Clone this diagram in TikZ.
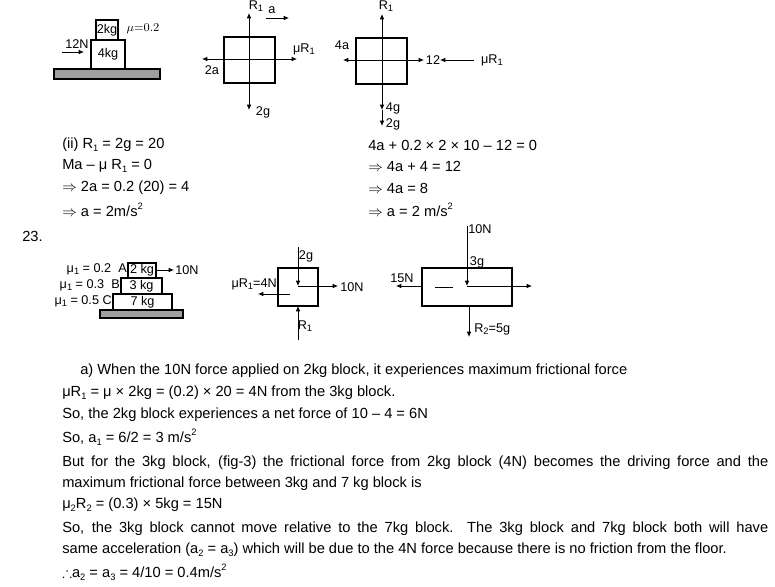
\documentclass[tikz,border=0pt]{standalone}
\usepackage{amssymb}
\usepackage{fontspec}
\setmainfont{Liberation Sans}
\usetikzlibrary{arrows.meta}
\newcommand{\lo}[1]{\raisebox{-0.35ex}{\scriptsize #1}}
\newcommand{\hi}[1]{\raisebox{0.9ex}{\scriptsize #1}}
\tikzset{
  txt/.style={anchor=west,inner sep=0pt,font=\fontsize{11}{12}\selectfont},
  lbl/.style={inner sep=0pt,font=\fontsize{9.5}{10}\selectfont},
  frc/.style={-{Latex[length=4pt,width=3.5pt]},line width=0.6pt},
  frcb/.style={{Latex[length=4pt,width=3.5pt]}-{Latex[length=4pt,width=3.5pt]},line width=0.6pt},
  blk/.style={draw,line width=0.8pt},
}
\begin{document}
\begin{tikzpicture}[x=0.75pt,y=-0.75pt]
	\useasboundingbox (0,0) rectangle (775,586);
	
	%blocks on the floor
	\draw[blk,fill=gray!75] (54,69) rectangle (160,79);
	\draw[blk] (91,40) rectangle (125,69) node[lbl,midway] {4kg};
	\draw[blk] (96,20) rectangle (118,40) node[lbl,midway] {2kg};
	\node[lbl] at (77,44) {12N};
	\draw[frc] (62,52) -- (84,52);
	\node[lbl,font=\fontfamily{lmr}\selectfont\small] at (143,29) {$\mu$=0.2};
	
	%free body of the 2kg block
	\draw[blk] (224,37) rectangle (275,83);
	\draw[frcb] (249,13) -- (249,110);
	\draw[frcb] (202,59) -- (297,59);
	\draw[frc] (266,18) -- (289,18);
	\node[lbl] at (256,6) {R\lo{1}};
	\node[lbl] at (272,10) {a};
	\node[lbl] at (304,49) {μR\lo{1}};
	\node[lbl] at (212,70) {2a};
	\node[lbl] at (263,112) {2g};
	
	%free body of the 4kg block
	\draw[blk] (356,38) rectangle (407,84);
	\draw[frc] (382,60) -- (382,14);
	\draw[frc] (382,60) -- (382,110);
	\draw[frc] (382,110) -- (382,126);
	\draw[frcb] (343,60) -- (424,60);
	\draw[frc] (474,60) -- (440,60);
	\node[lbl] at (386,6) {R\lo{1}};
	\node[lbl] at (342,45) {4a};
	\node[lbl] at (433,60) {12};
	\node[lbl] at (492,60) {μR\lo{1}};
	\node[lbl] at (393,108) {4g};
	\node[lbl] at (393,124) {2g};
	
	%working for part (ii)
	\node[txt] at (62,145) {(ii) R\lo{1} = 2g = 20};
	\node[txt] at (62,166) {Ma -- μ R\lo{1} = 0};
	\node[txt] at (62,188) {$\Rightarrow$ 2a = 0.2 (20) = 4};
	\node[txt] at (62,210) {$\Rightarrow$ a = 2m/s\hi{2}};
	\node[txt] at (368,145) {4a + 0.2 × 2 × 10 -- 12 = 0};
	\node[txt] at (368,166) {$\Rightarrow$ 4a + 4 = 12};
	\node[txt] at (368,188) {$\Rightarrow$ 4a = 8};
	\node[txt] at (368,210) {$\Rightarrow$ a = 2 m/s\hi{2}};
	\node[txt] at (22,236) {23.};
	
	%three stacked blocks
	\draw[blk,fill=gray!75] (100,310) rectangle (183,318);
	\draw[blk] (113,294) rectangle (172,310) node[lbl,midway] {7 kg};
	\draw[blk] (121,278) rectangle (162,294) node[lbl,midway] {3 kg};
	\draw[blk] (128,263) rectangle (156,278) node[lbl,midway] {2 kg};
	\draw[frc] (156,270) -- (174,270);
	\node[lbl,anchor=west] at (175,270) {10N};
	\node[lbl,anchor=east] at (127,269) {μ\lo{1} = 0.2\ \ A};
	\node[lbl,anchor=east] at (120,285) {μ\lo{1} = 0.3\ \ B};
	\node[lbl,anchor=east] at (112,301) {μ\lo{1} = 0.5\ C};
	
	%free body of the 2kg block
	\draw[blk] (278,268) rectangle (318,306);
	\draw[frc] (298,247) -- (298,286);
	\draw[frc] (298,286) -- (338,286);
	\draw[frc] (290,294) -- (258,294);
	\draw[frc] (298,340) -- (298,306);
	\node[lbl] at (306,256) {2g};
	\node[lbl,anchor=west] at (340,287) {10N};
	\node[lbl,anchor=east] at (277,284) {μR\lo{1}=4N};
	\node[lbl] at (305,326) {R\lo{1}};
	
	%free body of the 3kg block
	\draw[blk] (422,268) rectangle (512,306);
	\draw[frc] (467,226) -- (467,286);
	\draw[frc] (467,286) -- (532,286);
	\draw[frc] (422,286) -- (396,286);
	\draw[line width=0.6pt] (435,287) -- (453,287);
	\draw[frc] (469,306) -- (469,337);
	\node[lbl,anchor=west] at (468,229) {10N};
	\node[lbl] at (477,262) {3g};
	\node[lbl] at (402,278) {15N};
	\node[lbl,anchor=west] at (474,329) {R\lo{2}=5g};
	
	%explanation
	\node[txt] at (80,371) {a) When the 10N force applied on 2kg block, it experiences maximum frictional force};
	\node[txt] at (62,393) {μR\lo{1} = μ × 2kg = (0.2) × 20 = 4N from the 3kg block.};
	\node[txt] at (62,415) {So, the 2kg block experiences a net force of 10 -- 4 = 6N};
	\node[txt] at (62,437) {So, a\lo{1} = 6/2 = 3 m/s\hi{2}};
	\node[txt] at (62,463) {\hbox to 529.5pt{But for the 3kg block, (fig-3) the frictional force from 2kg block (4N) becomes the driving force and the}};
	\node[txt] at (62,484) {maximum frictional force between 3kg and 7 kg block is};
	\node[txt] at (62,505) {μ\lo{2}R\lo{2} = (0.3) × 5kg = 15N};
	\node[txt] at (62,529) {\hbox to 529.5pt{So, the 3kg block cannot move relative to the 7kg block. The 3kg block and 7kg block both will have}};
	\node[txt] at (62,550) {same acceleration (a\lo{2} = a\lo{3}) which will be due to the 4N force because there is no friction from the floor.};
	\node[txt] at (62,572) {$\therefore$a\lo{2} = a\lo{3} = 4/10 = 0.4m/s\hi{2}};
\end{tikzpicture}
\end{document}
